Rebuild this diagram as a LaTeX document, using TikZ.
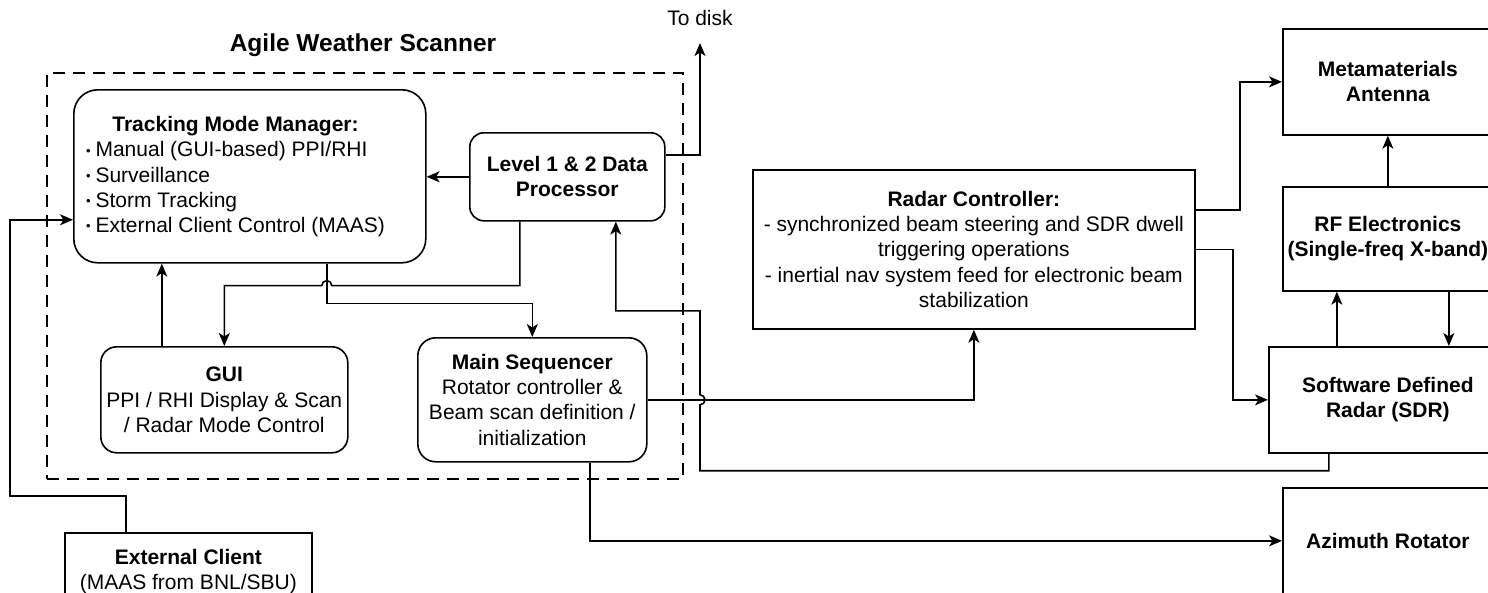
\documentclass[tikz,border=0pt]{standalone}
\usepackage{fontspec}
\setmainfont{Liberation Sans}
\usetikzlibrary{arrows.meta,calc}
\newcommand\bulmark{\raisebox{1.5pt}{\fontsize{13}{13}\selectfont\textbullet}\hspace{5pt}}
\begin{document}
\begin{tikzpicture}[x=1pt,y=-1pt,
  every node/.style={font=\fontsize{21}{25.2}\selectfont, inner sep=0pt, align=center},
  bftext/.style={font=\fontsize{21}{25.2}\selectfont\bfseries},
  rbox/.style={draw, line width=1.6pt, anchor=north west},
  sbox/.style={draw, line width=1.7pt, anchor=north west, font=\fontsize{21}{25.2}\selectfont\bfseries},
  conn/.style={line width=1.6pt, -{Stealth[length=13pt,width=11pt,inset=3.5pt]}}]
\useasboundingbox (0,0) rectangle (1488,592);
\fill[white] (0,0) rectangle (1488,592);
\clip (0,0) rectangle (1488,592);

% group frame and title
\node[draw, line width=1.5pt, dash pattern=on 12pt off 8pt, anchor=north west,
      minimum width=636pt, minimum height=406pt] (aws) at (46,72) {};
\node[font=\fontsize{24.5}{29}\selectfont\bfseries] (title) at (363,45) {Agile Weather Scanner};
\node (todisk) at (700,18) {To disk};
\coordinate (diskend) at (700,43);

% left group
\node[rbox, rounded corners=24pt, minimum width=352pt, minimum height=173pt] (tmm) at (73,89) {};
\node (tmmtext) at (235.5,177) {\begin{tabular}{@{}l@{}}
\multicolumn{1}{@{}c@{}}{\textbf{Tracking Mode Manager:}}\\
\bulmark Manual (GUI-based) PPI/RHI\\
\bulmark Surveillance\\
\bulmark Storm Tracking\\
\bulmark External Client Control (MAAS)
\end{tabular}};
\node[rbox, rounded corners=14pt, minimum width=195pt, minimum height=88pt, bftext] (l12) at (469,132) {Level 1 \& 2 Data\\Processor};
\node[rbox, rounded corners=16pt, minimum width=247pt, minimum height=106pt] (gui) at (100,346) {\textbf{GUI}\\PPI / RHI Display \& Scan\\/ Radar Mode Control};
\node[rbox, rounded corners=18pt, minimum width=229pt, minimum height=124pt] (ms) at (417,337) {\textbf{Main Sequencer}\\Rotator controller \&\\Beam scan definition /\\initialization};
\node[draw, line width=1.7pt, anchor=north west, minimum width=247pt, minimum height=77pt] (ext) at (64,532) {\textbf{External Client}\\(MAAS from BNL/SBU)};

% right side
\node[draw, line width=1.7pt, anchor=north west, minimum width=442pt, minimum height=159pt] (rc) at (752,169) {\textbf{Radar Controller:}\\- synchronized beam steering and SDR dwell\\triggering operations\\- inertial nav system feed for electronic beam\\stabilization};
\node[sbox, minimum width=210pt, minimum height=106pt] (meta) at (1282,28) {Metamaterials\\Antenna};
\node[sbox, minimum width=210pt, minimum height=104pt] (rf) at (1282,186) {RF Electronics\\(Single-freq X-band)};
\node[sbox, minimum width=238pt, minimum height=106pt] (sdr) at (1268,346) {Software Defined\\Radar (SDR)};
\node[sbox, minimum width=210pt, minimum height=106pt] (az) at (1282,487) {Azimuth Rotator};

% connectors
\coordinate (tmmout) at ([xshift=77pt]tmm.south);
\coordinate (hop2) at (ms.east -| diskend);

\draw[conn] (l12.west) -- (l12.west -| tmm.east);
\draw[conn] ([yshift=22pt]l12.east) -| (diskend);
\draw[conn] ([xshift=62pt]ext.north west) |- (10,496) |- ([yshift=-43.5pt]tmm.west);
\draw[conn] ([xshift=-62.5pt]gui.north) -- ([xshift=-88pt]tmm.south);
\draw[conn] ([xshift=-47.5pt]l12.south) |- ($(tmmout)+(5,22)$)
   arc[start angle=0,end angle=180,radius=5pt] -| (gui.north);
\draw[conn] (tmmout) -- ($(tmmout)+(0,40)$) -| (ms.north);
\draw[conn] (ms.east) -| (rc.south);
\draw[conn] ([xshift=57.5pt]ms.south) |- (az.west);
\draw[conn] ([xshift=-59pt]sdr.south) -- ++(0,17) -| ($(hop2)+(0,5)$)
   arc[start angle=-90,end angle=90,radius=5pt] -- ($(hop2)+(0,-89)$) -| ([xshift=48.5pt]l12.south);
\draw[conn] ([yshift=39.5pt]rc.east) -- ++(44,0) |- (meta.west);
\draw[conn] (rc.east) -- ++(37,0) |- (sdr.west);
\draw[conn] (rf.north) -- (meta.south);
\draw[conn] ([xshift=-51pt]sdr.north) -- ([xshift=-51pt]rf.south);
\draw[conn] ([xshift=61pt]rf.south) -- ([xshift=61pt]sdr.north);
\end{tikzpicture}
\end{document}
